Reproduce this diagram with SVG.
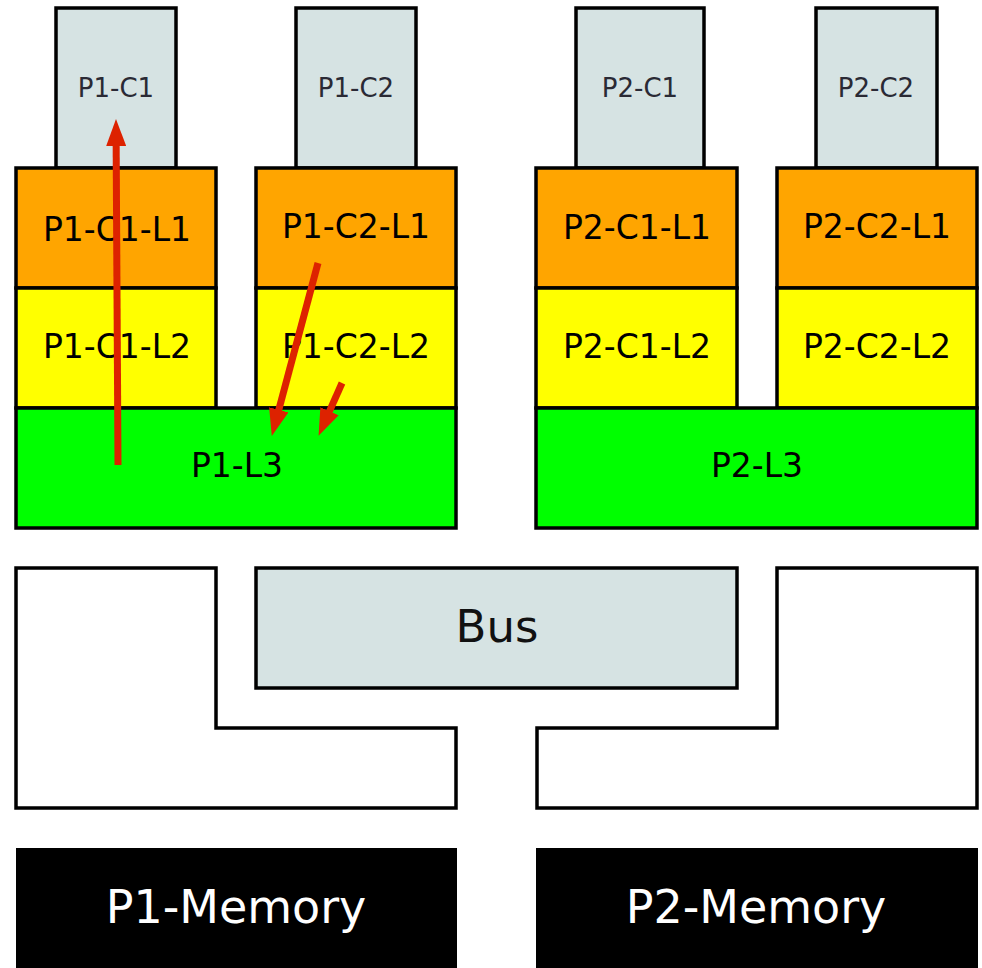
<svg xmlns="http://www.w3.org/2000/svg" width="982" height="968" viewBox="0 0 982 968">
<style>
.b{stroke:#000;stroke-width:3.5}
.core{fill:#d6e3e3}
.l1{fill:#ffa500}
.l2{fill:#ffff00}
.l3{fill:#00ff00}
.bus{fill:#d6e3e3}
.shape{fill:#fff;stroke:#000;stroke-width:3.5}
.mem{fill:#000}
text{font-family:"DejaVu Sans","Liberation Sans",sans-serif;text-anchor:middle}
.ts{font-size:26px;fill:#2a2a35}
.tm{font-size:33px;fill:#000}
.tl{font-size:45px;fill:#111}
.tw{font-size:46px;fill:#fff}
.arr{stroke:#dd2200;stroke-width:7;fill:none;marker-end:url(#ah)}
</style>
<defs>
<marker id="ah" markerUnits="userSpaceOnUse" markerWidth="28" markerHeight="20" viewBox="0 0 28 20" refX="1" refY="10" orient="auto">
<path d="M0,0 L27,10 L0,20 z" fill="#dd2200"/>
</marker>
</defs>
<rect width="982" height="968" fill="#fff"/>
<g id="P1-C1"><rect class="b core" x="56" y="8" width="120" height="160"/><text class="ts" x="116" y="97">P1-C1</text></g>
<g id="P1-C2"><rect class="b core" x="296" y="8" width="120" height="160"/><text class="ts" x="356" y="97">P1-C2</text></g>
<g id="P2-C1"><rect class="b core" x="576" y="8" width="128" height="160"/><text class="ts" x="640" y="97">P2-C1</text></g>
<g id="P2-C2"><rect class="b core" x="816" y="8" width="121" height="160"/><text class="ts" x="876" y="97">P2-C2</text></g>
<g id="P1-C1-L1"><rect class="b l1" x="16" y="168" width="200" height="120"/><text class="tm" x="117" y="241">P1-C1-L1</text></g>
<g id="P1-C2-L1"><rect class="b l1" x="256" y="168" width="200" height="120"/><text class="tm" x="356" y="238">P1-C2-L1</text></g>
<g id="P2-C1-L1"><rect class="b l1" x="536" y="168" width="201" height="120"/><text class="tm" x="637" y="239">P2-C1-L1</text></g>
<g id="P2-C2-L1"><rect class="b l1" x="777" y="168" width="200" height="120"/><text class="tm" x="877" y="238">P2-C2-L1</text></g>
<g id="P1-C1-L2"><rect class="b l2" x="16" y="288" width="200" height="120"/><text class="tm" x="117" y="358">P1-C1-L2</text></g>
<g id="P1-C2-L2"><rect class="b l2" x="256" y="288" width="200" height="120"/><text class="tm" x="356" y="358">P1-C2-L2</text></g>
<g id="P2-C1-L2"><rect class="b l2" x="536" y="288" width="201" height="120"/><text class="tm" x="637" y="358">P2-C1-L2</text></g>
<g id="P2-C2-L2"><rect class="b l2" x="777" y="288" width="200" height="120"/><text class="tm" x="877" y="358">P2-C2-L2</text></g>
<g id="P1-L3"><rect class="b l3" x="16" y="408" width="440" height="120"/><text class="tm" x="237" y="477">P1-L3</text></g>
<g id="P2-L3"><rect class="b l3" x="536" y="408" width="441" height="120"/><text class="tm" x="757" y="477">P2-L3</text></g>
<g id="Bus"><rect class="b bus" x="256" y="568" width="481" height="120"/><text class="tl" x="497" y="642">Bus</text></g>
<g id="P1-Link"><path class="shape" d="M16,568 L216,568 L216,728 L456,728 L456,808 L16,808 Z"/></g>
<g id="P2-Link"><path class="shape" d="M777,568 L977,568 L977,808 L537,808 L537,728 L777,728 Z"/></g>
<g id="P1-Memory"><rect class="mem" x="16" y="848" width="441" height="122"/><text class="tw" x="236" y="923">P1-Memory</text></g>
<g id="P2-Memory"><rect class="mem" x="536" y="848" width="442" height="122"/><text class="tw" x="756" y="923">P2-Memory</text></g>
<g id="connectors">
<line class="arr" x1="118" y1="465" x2="116.15" y2="145"/>
<line class="arr" x1="318" y1="263" x2="278.5" y2="410.8"/>
<line class="arr" x1="342" y1="383" x2="329.1" y2="412.1"/>
</g>
</svg>
